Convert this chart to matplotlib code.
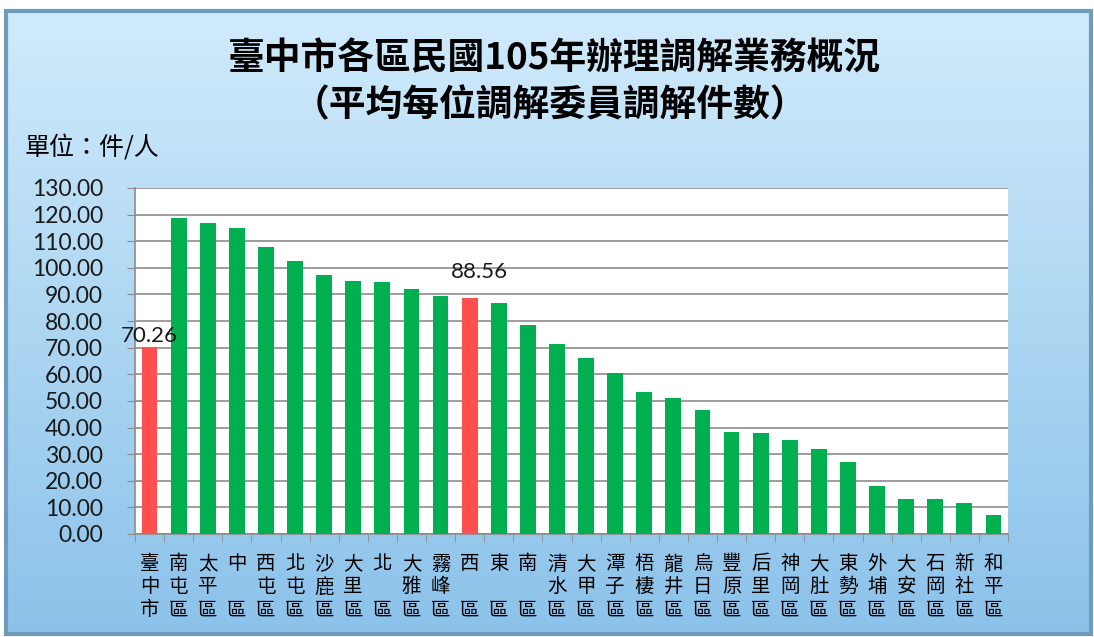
import matplotlib.pyplot as plt
import numpy as np
from matplotlib.patches import Rectangle

plt.rcParams['font.family'] = ['Noto Sans CJK TC', 'DejaVu Sans']

# data
districts = ['臺中市', '南屯區', '太平區', '中區', '西屯區', '北屯區', '沙鹿區', '大里區',
             '北區', '大雅區', '霧峰區', '西區', '東區', '南區', '清水區', '大甲區',
             '潭子區', '梧棲區', '龍井區', '烏日區', '豐原區', '后里區', '神岡區', '大肚區',
             '東勢區', '外埔區', '大安區', '石岡區', '新社區', '和平區']
cases_per_member = [70.26, 118.7, 116.8, 114.8, 108.0, 102.7, 97.4, 95.0,
                    94.5, 92.0, 89.4, 88.56, 86.7, 78.6, 71.3, 66.0,
                    60.6, 53.5, 51.0, 46.7, 38.5, 37.8, 35.5, 32.1,
                    27.2, 18.0, 13.3, 13.3, 11.8, 7.1]
highlight = ['臺中市', '西區']
yticks = np.arange(0, 131, 10)

green = '#00b050'
red = '#ff4f4f'


def stack_label(name):
    # one character per line, short names get a blank middle line
    if len(name) == 2:
        return name[0] + '\n\n' + name[1]
    return '\n'.join(name)


fig = plt.figure(figsize=(10.94, 6.37), dpi=100)

# gradient background panel with border
bg = fig.add_axes([0, 0, 1, 1], zorder=-5)
bg.set_xlim(0, 1)
bg.set_ylim(0, 1)
bg.axis('off')
grad = np.linspace(0, 1, 256).reshape(-1, 1)
x0, x1 = 6 / 1094, 1091 / 1094
y0, y1 = 1 - 634 / 637, 1 - 11 / 637
top_c = np.array([0xd0, 0xeb, 0xfb]) / 255
bot_c = np.array([0x8c, 0xc2, 0xea]) / 255
img = top_c * (1 - grad[:, :, None]) + bot_c * grad[:, :, None]
bg.imshow(img, extent=[x0, x1, y0, y1], aspect='auto', origin='upper')
bg.add_patch(Rectangle((x0, y0), x1 - x0, y1 - y0, fill=False,
                       edgecolor='#6f9cbd', linewidth=3))

ax = fig.add_axes([135 / 1094, 1 - 534 / 637, (1008 - 135) / 1094, (534 - 188) / 637])
ax.set_facecolor('white')

x = np.arange(len(districts))
colors = [red if d in highlight else green for d in districts]
ax.bar(x, cases_per_member, width=0.54, color=colors, zorder=3)

for d in highlight:
    i = districts.index(d)
    v = cases_per_member[i]
    off = (0, 1) if i == 0 else (7, 12)
    ax.annotate(f'{v:.2f}', (x[i], v), xytext=off, textcoords='offset points',
                ha='center', va='bottom', fontsize=16, family='Lato', color='#1a1a1a')

ax.set_xlim(-0.5, len(districts) - 0.5)
ax.set_ylim(0, 130)
ax.set_yticks(yticks)
ax.set_yticklabels([f'{t:.2f}' for t in yticks], family='Lato', fontsize=16.5, color='#1a1a1a')
ax.yaxis.grid(True, color='#8c8c8c', linewidth=1.2, zorder=0)
ax.tick_params(axis='y', length=6, color='#8c8c8c', pad=17)

ax.set_xticks(x)
ax.set_xticklabels([stack_label(d) for d in districts], fontsize=14, linespacing=1.12)
ax.tick_params(axis='x', which='major', length=0, pad=14)
ax.set_xticks(np.arange(-0.5, len(districts)), minor=True)
ax.tick_params(axis='x', which='minor', length=6, color='#8c8c8c')

for s in ['top', 'right']:
    ax.spines[s].set_visible(False)
ax.spines['left'].set_color('#8c8c8c')
ax.spines['bottom'].set_color('#8c8c8c')
ax.spines['left'].set_linewidth(1.2)
ax.spines['bottom'].set_linewidth(1.2)

fig.text(0.507, 1 - 59 / 637, '臺中市各區民國105年辦理調解業務概況', ha='center', va='center',
         fontsize=26.5, fontweight='bold')
fig.text(0.503, 1 - 106 / 637, '（平均每位調解委員調解件數）', ha='center', va='center',
         fontsize=26.5, fontweight='bold')
fig.text(25 / 1094, 1 - 148 / 637, '單位：件/人', ha='left', va='center', fontsize=18)

plt.savefig('out.png', dpi=100)
